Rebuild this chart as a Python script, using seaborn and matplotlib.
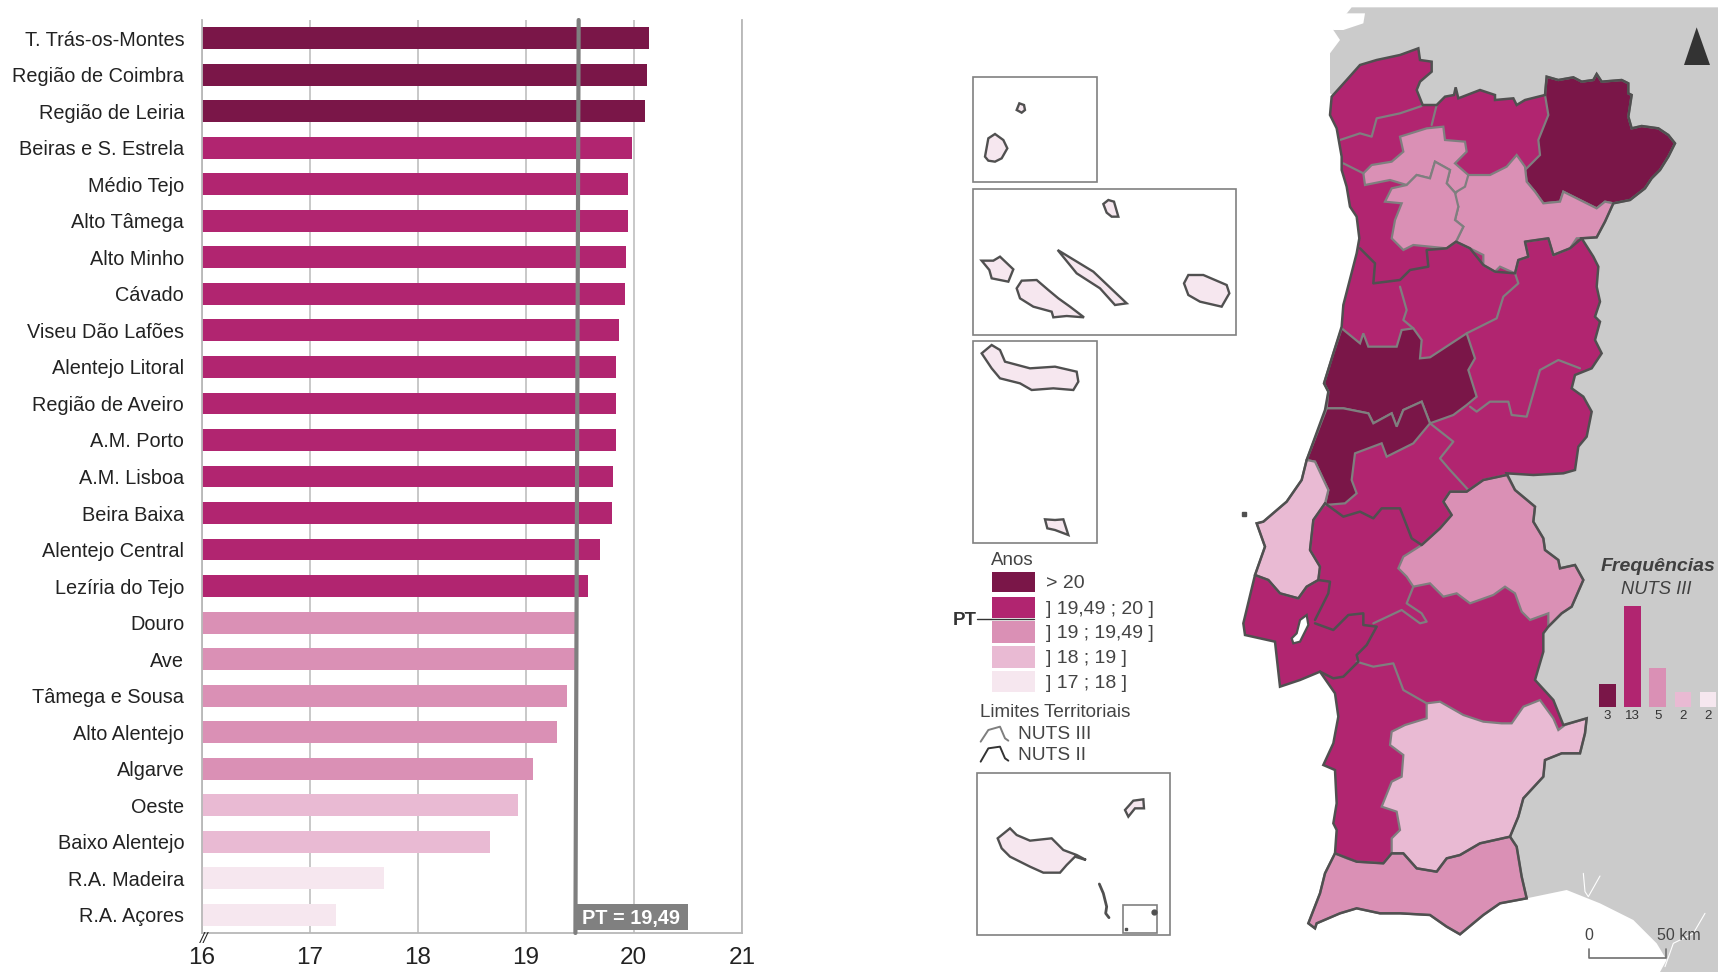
import matplotlib
matplotlib.use('Agg')
import pandas as pd
import matplotlib.pyplot as plt
import seaborn as sns
from matplotlib.patches import Polygon, Rectangle

sns.set_theme(style='white')
plt.rcParams['font.family'] = ['Liberation Sans', 'DejaVu Sans']

# dados do grafico de barras
regioes = ['T. Trás-os-Montes', 'Região de Coimbra', 'Região de Leiria', 'Beiras e S. Estrela',
           'Médio Tejo', 'Alto Tâmega', 'Alto Minho', 'Cávado', 'Viseu Dão Lafões',
           'Alentejo Litoral', 'Região de Aveiro', 'A.M. Porto', 'A.M. Lisboa', 'Beira Baixa',
           'Alentejo Central', 'Lezíria do Tejo', 'Douro', 'Ave', 'Tâmega e Sousa',
           'Alto Alentejo', 'Algarve', 'Oeste', 'Baixo Alentejo', 'R.A. Madeira', 'R.A. Açores']
anos = [20.14, 20.12, 20.10, 19.98, 19.95, 19.95, 19.93, 19.92, 19.86, 19.84, 19.84, 19.84, 19.81,
        19.80, 19.69, 19.58, 19.47, 19.46, 19.38, 19.29, 19.07, 18.93, 18.67, 17.69, 17.24]
classes = ['> 20', '] 19,49 ; 20 ]', '] 19 ; 19,49 ]', '] 18 ; 19 ]', '] 17 ; 18 ]']
cores = ['#7a1648', '#b12570', '#da90b5', '#e9bad3', '#f6e7ef']
classe_regiao = [classes[0]] * 3 + [classes[1]] * 13 + [classes[2]] * 5 + [classes[3]] * 2 + [classes[4]] * 2
frequencias = [3, 13, 5, 2, 2]
freq_labels = ['3', '13', '5', '2', '2']
anos_ticks = [16, 17, 18, 19, 20, 21]
pt_valor = 19.49

# contornos do mapa, lidos em recortes 3x da imagem
spain = [(455, 22), (1554, 22), (1554, 2916), (1380, 2916), (1400, 2880), (1370, 2830), (1300, 2760),
         (1200, 2710), (1100, 2670), (980, 2695), (700, 2000), (700, 1000), (420, 300), (390, 280),
         (390, 160), (420, 120), (400, 90)]
estuario_n = [(400, 60), (440, 40), (495, 40), (490, 70), (430, 90), (400, 90)]
rio_1 = [(1150, 1210), (1155, 1265), (1165, 1280), (1200, 1218)]
rio_2 = [(1395, 1490), (1420, 1420), (1480, 1390), (1515, 1330)]

outline_a = [(395, 290), (440, 240), (480, 195), (530, 180), (600, 165), (655, 145), (660, 180), (695, 185),
             (695, 215), (660, 245), (650, 270), (668, 315), (710, 315), (735, 290), (762, 285), (767, 262),
             (775, 295), (840, 270), (885, 285), (885, 300), (940, 295), (950, 315), (975, 300), (1035, 285),
             (1040, 230), (1075, 240), (1120, 232), (1145, 245), (1180, 240), (1190, 222), (1205, 245),
             (1265, 240), (1285, 250), (1285, 280), (1295, 285), (1285, 350), (1295, 385), (1325, 378),
             (1375, 385), (1405, 405), (1425, 430), (1405, 470), (1380, 510), (1355, 535), (1335, 565),
             (1290, 600), (1240, 610), (1215, 665), (1190, 712), (1145, 715), (1180, 770), (1195, 800),
             (1190, 860), (1200, 905), (1185, 950), (1200, 965), (1185, 1020), (1205, 1060), (1175, 1105),
             (1125, 1125), (1115, 1165), (1150, 1190), (1175, 1235), (1160, 1310), (1135, 1340), (1125, 1410),
             (1090, 1420), (1000, 1425), (920, 1420)]
outline_b = [(945, 60), (1005, 110), (1000, 155), (1030, 205), (1035, 240), (1075, 270), (1080, 295), (1125, 285),
             (1150, 330), (1115, 410), (1085, 430), (1045, 470), (1030, 490), (1030, 545), (1005, 630), (1060, 690),
             (1090, 765), (1160, 745), (1155, 790), (1140, 850), (1085, 850), (1035, 870), (1030, 920), (970, 985),
             (955, 1040), (930, 1100), (950, 1130), (965, 1220), (980, 1285), (900, 1300), (850, 1335), (780, 1393),
             (740, 1370), (690, 1335), (600, 1330), (540, 1330), (470, 1315), (420, 1330), (350, 1360), (345, 1375),
             (325, 1360), (360, 1270), (375, 1210), (405, 1150), (410, 1080), (400, 1060), (410, 1000), (405, 900),
             (370, 885), (400, 820), (415, 740), (405, 670), (360, 605), (300, 630), (240, 650), (225, 515),
             (135, 495), (130, 460), (165, 315), (195, 230), (170, 160), (190, 155), (260, 95), (305, 30)]
outline_c = [(320, 1380), (375, 1230), (385, 1175), (372, 1150), (400, 1060), (425, 980), (430, 915), (470, 760),
             (478, 715), (470, 650), (450, 620), (440, 560), (425, 510), (425, 470), (410, 385), (390, 345)]
tejo = [(300, 450), (320, 435), (325, 465), (300, 515), (280, 520), (275, 505), (290, 490)]

tras_os_montes = [(1040, 230), (1075, 240), (1120, 232), (1145, 245), (1180, 240), (1190, 222), (1205, 245),
                  (1265, 240), (1285, 250), (1285, 280), (1295, 285), (1285, 350), (1295, 385), (1325, 378),
                  (1375, 385), (1405, 405), (1425, 430), (1405, 470), (1380, 510), (1355, 535), (1335, 565),
                  (1290, 600), (1240, 610), (1215, 605), (1190, 625), (1150, 605), (1090, 575), (1080, 605),
                  (1030, 610), (1005, 575), (980, 545), (975, 510), (1020, 465), (1015, 420), (1045, 345), (1035, 285)]
douro = [(770, 575), (800, 525), (870, 525), (920, 500), (950, 465), (975, 500), (980, 545), (1005, 575), (1030, 610),
         (1080, 605), (1090, 575), (1150, 605), (1190, 625), (1215, 605), (1240, 610), (1215, 665), (1190, 712),
         (1130, 715), (1110, 745), (1060, 765), (1045, 715), (975, 725), (985, 770), (955, 780), (945, 820), (900, 800),
         (885, 815), (850, 795), (850, 765), (810, 745), (768, 725), (790, 680), (765, 660), (775, 620), (760, 590)]
ave = [(495, 555), (490, 520), (515, 495), (575, 485), (610, 455), (600, 410), (680, 385), (730, 380), (735, 420),
       (795, 425), (800, 455), (765, 490), (805, 525), (795, 560), (765, 578), (740, 550), (750, 510), (705, 485),
       (690, 535), (650, 525), (620, 555), (570, 540)]
tamega = [(555, 605), (575, 565), (620, 555), (650, 525), (690, 535), (705, 485), (750, 510), (740, 550), (765, 578),
          (775, 620), (765, 660), (790, 680), (768, 725), (740, 745), (690, 740), (640, 735), (610, 750), (575, 715),
          (585, 660), (605, 610)]
coimbra = [(425, 985), (480, 1030), (490, 1000), (505, 1040), (590, 1040), (605, 990), (640, 985), (665, 1020),
           (660, 1075), (690, 1072), (800, 1000), (825, 1075), (805, 1110), (830, 1190), (800, 1215), (760, 1245),
           (690, 1270), (665, 1205), (610, 1230), (590, 1280), (575, 1240), (520, 1270), (505, 1240), (430, 1225),
           (380, 1225), (385, 1175), (372, 1150), (400, 1060)]
leiria = [(380, 1225), (430, 1225), (505, 1240), (520, 1270), (575, 1240), (590, 1280), (610, 1230), (665, 1205),
          (690, 1270), (640, 1330), (560, 1370), (545, 1330), (465, 1360), (455, 1440), (470, 1480), (435, 1510),
          (375, 1515), (385, 1470), (345, 1385), (320, 1380)]
oeste = [(305, 30), (320, -30), (345, -25), (385, 60), (375, 100), (340, 150), (330, 240), (360, 290), (355, 330),
         (320, 350), (295, 385), (240, 370), (205, 330), (165, 315), (195, 230), (170, 160), (190, 155), (260, 95)]
algarve = [(405, 1150), (440, 1165), (470, 1175), (550, 1180), (575, 1150), (610, 1150), (650, 1195), (710, 1205),
           (740, 1165), (780, 1155), (840, 1120), (930, 1100), (950, 1130), (965, 1220), (980, 1285), (900, 1300),
           (850, 1335), (780, 1393), (740, 1370), (690, 1335), (600, 1330), (540, 1330), (470, 1315), (420, 1330),
           (350, 1360), (345, 1375), (325, 1360), (360, 1270), (375, 1210)]
baixo_alentejo = [(680, 700), (720, 695), (790, 735), (850, 755), (905, 760), (935, 760), (970, 710), (1020, 690),
                  (1060, 745), (1075, 780), (1095, 765), (1160, 745), (1155, 790), (1140, 850), (1085, 850),
                  (1035, 870), (1030, 920), (970, 985), (955, 1040), (930, 1100), (840, 1120), (780, 1155), (740, 1165),
                  (710, 1205), (650, 1195), (610, 1150), (575, 1150), (575, 1105), (600, 1080), (590, 1025), (545, 1010),
                  (575, 935), (605, 920), (610, 855), (570, 825), (575, 785), (615, 765), (680, 745)]
alto_alentejo = [(920, 15), (945, 60), (1005, 110), (1000, 155), (1030, 205), (1035, 240), (1075, 270), (1080, 295),
                 (1125, 285), (1150, 330), (1115, 410), (1085, 430), (1045, 470), (1045, 430), (990, 450), (965, 425),
                 (945, 370), (915, 350), (880, 375), (810, 400), (770, 370), (730, 380), (690, 340), (640, 350),
                 (620, 320), (595, 295), (610, 260), (665, 225), (720, 175), (755, 135), (730, 95), (750, 65),
                 (800, 65), (850, 30)]

# limites NUTS III (cinza), recorte norte
nuts3_n = [
    [(420, 420), (480, 400), (515, 410), (530, 355), (600, 340), (665, 318)],
    [(430, 490), (490, 520)],
    [(710, 315), (695, 375)],
    [(600, 860), (620, 930), (610, 960), (640, 985)],
    [(800, 1000), (890, 955), (910, 890), (955, 850), (945, 820)],
    [(810, 1220), (830, 1235), (870, 1205), (925, 1205), (935, 1245), (980, 1250), (1020, 1110), (1075, 1080), (1140, 1105)],
    [(690, 1270), (760, 1325), (720, 1375), (750, 1410), (805, 1470)],
]
nuts3_s = [
    [(640, 350), (620, 400), (665, 430), (680, 455), (660, 460), (605, 420), (520, 460)],
    [(470, 575), (520, 590), (580, 580), (610, 660), (680, 700)],
]
# limites NUTS II (escuro)
nuts2_n = [(480, 745), (525, 790), (520, 850), (600, 840), (630, 810), (685, 800), (680, 750), (740, 745), (768, 725),
           (810, 745), (850, 795), (885, 815), (945, 820), (955, 780), (985, 770), (975, 725), (1045, 715), (1060, 765),
           (1110, 745), (1145, 715)]
nuts2_s = [
    [(375, 100), (430, 140), (480, 125), (520, 145), (545, 115), (600, 115), (635, 205), (665, 225), (720, 175), (755, 135),
     (730, 95), (750, 65), (800, 65), (850, 30), (920, 15)],
    [(375, 100), (340, 150), (330, 240), (360, 290), (355, 330), (390, 335), (385, 370), (345, 450)],
    [(165, 315), (205, 330), (240, 370), (295, 385), (320, 350), (355, 330)],
    [(345, 460), (400, 480), (445, 435), (490, 430), (490, 465), (530, 470), (500, 525), (470, 555), (475, 575), (430, 620), (400, 625), (360, 605)],
    [(405, 1150), (470, 1175), (550, 1180), (575, 1150), (610, 1150), (650, 1195), (710, 1205), (740, 1165), (780, 1155), (840, 1120), (930, 1100)],
]

# ilhas
corvo = [(170, 150), (178, 130), (192, 135), (195, 150), (185, 158)]
flores = [(75, 290), (85, 235), (105, 222), (130, 240), (142, 265), (125, 295), (105, 305), (85, 302)]
graciosa = [(430, 432), (445, 420), (462, 425), (475, 470), (455, 470), (440, 458)]
faial = [(65, 602), (100, 602), (120, 590), (160, 628), (145, 665), (95, 655), (88, 630)]
pico = [(170, 685), (185, 662), (230, 660), (265, 690), (295, 715), (330, 740), (372, 772), (320, 768), (280, 772),
        (275, 755), (220, 740), (180, 715)]
sao_jorge = [(293, 570), (400, 635), (500, 730), (465, 735), (420, 685), (350, 640)]
terceira = [(672, 670), (685, 645), (730, 645), (800, 675), (808, 700), (785, 740), (720, 725), (685, 705)]
sao_miguel = [(65, 880), (95, 855), (120, 870), (135, 905), (210, 925), (285, 920), (350, 935), (355, 965), (340, 990),
              (280, 985), (215, 990), (180, 970), (120, 955), (95, 925)]
santa_maria = [(255, 1378), (285, 1380), (310, 1378), (325, 1425), (285, 1410), (262, 1405)]
madeira = [(113, 235), (150, 205), (170, 225), (210, 242), (275, 235), (310, 270), (350, 285), (378, 300), (345, 290),
           (320, 315), (300, 338), (250, 338), (210, 320), (150, 290), (125, 265)]
porto_santo = [(495, 150), (520, 122), (550, 118), (552, 145), (525, 145), (505, 170)]
desertas = [(418, 372), (430, 400), (440, 440), (437, 460), (447, 473)]


def crop(pts, x0, y0):
    # recorte 3x -> pixels da figura
    return [(x0 + p[0] / 3, y0 + p[1] / 3) for p in pts]


def N(pts):
    return crop(pts, 1200, 0)


def S(pts):
    return crop(pts, 1200, 470)


def A(pts):
    return crop(pts, 960, 60)


def M(pts):
    return crop(pts, 960, 760)


def L(pts):
    return crop(pts, 960, 530)


W, H = 1718, 972
fig = plt.figure(figsize=(W / 100, H / 100), dpi=100, facecolor='white')


def axes_px(x0, y0, x1, y1):
    return fig.add_axes([x0 / W, 1 - y1 / H, (x1 - x0) / W, (y1 - y0) / H])


# --- mapa: eixo em pixels sobre a figura toda
bg = axes_px(0, 0, W, H)
bg.set_xlim(0, W)
bg.set_ylim(H, 0)
bg.axis('off')


def area(ax, pts, cor, borda=None, lw=1.6, z=2):
    ax.add_patch(Polygon(pts, closed=True, facecolor=cor, edgecolor=borda if borda else 'none', lw=lw, zorder=z))


def linha(ax, pts, cor, lw=1.6, z=4):
    ax.plot([p[0] for p in pts], [p[1] for p in pts], color=cor, lw=lw, zorder=z, solid_joinstyle='round')


CINZA = '#7f7f7f'
ESCURO = '#505050'

area(bg, N(spain), '#cbcbcb', z=1)
area(bg, N(estuario_n), 'white', z=1.5)
linha(bg, S(rio_1), 'white', 0.8, 1.5)
linha(bg, S(rio_2), 'white', 0.8, 1.5)

contorno = N(outline_a) + S(outline_b) + N(outline_c)
area(bg, contorno, cores[1], z=2)
area(bg, N(tras_os_montes), cores[0], CINZA, z=3)
area(bg, N(douro), cores[2], CINZA, z=3)
area(bg, N(ave), cores[2], CINZA, z=3)
area(bg, N(tamega), cores[2], CINZA, z=3)
area(bg, N(coimbra), cores[0], CINZA, z=3)
area(bg, N(leiria), cores[0], CINZA, z=3)
area(bg, S(oeste), cores[3], CINZA, z=3)
area(bg, S(algarve), cores[2], CINZA, z=3)
area(bg, S(baixo_alentejo), cores[3], CINZA, z=3)
area(bg, S(alto_alentejo), cores[2], CINZA, z=3)
for seg in nuts3_n:
    linha(bg, N(seg), CINZA)
for seg in nuts3_s:
    linha(bg, S(seg), CINZA)
linha(bg, N(nuts2_n), ESCURO, 1.8, 5)
for seg in nuts2_s:
    linha(bg, S(seg), ESCURO, 1.8, 5)
area(bg, contorno, 'none', ESCURO, 1.8, 5)
area(bg, S(tejo), 'white', ESCURO, 1.6, 6)
bg.plot(*S([(131, 131)])[0], 's', color=ESCURO, ms=2.5, zorder=6)

# seta de norte
area(bg, N([(1490, 82), (1530, 195), (1452, 195)]), '#333333', z=7)

# escala grafica
linha(bg, S([(1167, 1438), (1167, 1465), (1398, 1465), (1398, 1438)]), '#707070', 1.2, 7)
bg.text(*S([(1165, 1395)])[0], '0', ha='center', va='center', fontsize=11.5, color='#444444', zorder=7)
bg.text(*S([(1436, 1395)])[0], '50 km', ha='center', va='center', fontsize=11.5, color='#444444', zorder=7)

# caixas das ilhas
for x0, y0, x1, y1 in [(972.7, 77.3, 1097, 182.3), (972.7, 189.3, 1235.7, 335.3), (972.7, 341.3, 1097, 543.3),
                       (976.7, 772.7, 1170, 935), (1122.7, 905, 1157.3, 933)]:
    bg.add_patch(Rectangle((x0, y0), x1 - x0, y1 - y0, fc='none', ec='#808080', lw=1.2, zorder=2))
for ilha in [corvo, flores, graciosa, faial, pico, sao_jorge, terceira, sao_miguel, santa_maria]:
    area(bg, A(ilha), cores[4], ESCURO, 1.7, 3)
for ilha in [madeira, porto_santo]:
    area(bg, M(ilha), cores[4], ESCURO, 1.7, 3)
linha(bg, M(desertas), ESCURO, 2.0, 3)
bg.plot(*M([(583, 455)])[0], 'o', color=ESCURO, ms=3.5, zorder=3)
bg.plot(*M([(498, 508)])[0], 's', color=ESCURO, ms=2, zorder=3)

# legenda
TXT = '#444444'
bg.text(991, 560, 'Anos', ha='left', va='center', fontsize=13.5, color=TXT)
caixas = [(571.7, 592), (596.7, 617.7), (621, 642.7), (646, 667.7), (671, 692)]
for (y0, y1), cor, rotulo in zip(caixas, cores, classes):
    bg.add_patch(Rectangle((991.7, y0), 43.3, y1 - y0, fc=cor, ec='none', zorder=2))
    bg.text(1046.5, (y0 + y1) / 2 + 2, rotulo, ha='left', va='center', fontsize=14, color=TXT)
linha(bg, [(976.7, 619.3), (1034, 619.3)], '#333333', 1.0, 6)
bg.text(965, 620, 'PT', ha='center', va='center', fontsize=13.5, fontweight='bold', color='#333333')
bg.text(980, 712.5, 'Limites Territoriais', ha='left', va='center', fontsize=13.6, color=TXT)
bg.text(1018, 734, 'NUTS III', ha='left', va='center', fontsize=13.8, color=TXT)
bg.text(1018, 755, 'NUTS II', ha='left', va='center', fontsize=13.8, color=TXT)
linha(bg, L([(62, 635), (85, 600), (120, 590), (135, 625), (145, 632)]), CINZA, 1.4)
linha(bg, L([(62, 695), (85, 655), (120, 650), (135, 685), (145, 692)]), '#333333', 1.4)

bg.text(1658, 566, 'Frequências', ha='center', va='center', fontsize=14, fontweight='bold', style='italic', color='#404040', zorder=8)
bg.text(1656, 589, 'NUTS III', ha='center', va='center', fontsize=13.2, style='italic', color='#404040', zorder=8)

# --- barras de frequencias
df_freq = pd.DataFrame({'classe': classes, 'n': frequencias})
ax_f = axes_px(1594.7, 605.7, 1720.7, 707.3)
ax_f.patch.set_alpha(0)
sns.barplot(data=df_freq, x='classe', y='n', hue='classe', palette=dict(zip(classes, cores)),
            order=classes, width=0.66, dodge=False, legend=False, saturation=1, linewidth=0, ax=ax_f)
ax_f.set_xlim(-0.5, 4.5)
ax_f.set_ylim(0, 13)
ax_f.set_xticks(range(5))
ax_f.set_xticklabels(freq_labels, fontsize=9.5, color='#333333')
ax_f.set_xlabel('')
ax_f.set_ylabel('')
ax_f.set_yticks([])
ax_f.tick_params(axis='x', length=0, pad=2)
sns.despine(ax=ax_f, left=True, bottom=True)

# --- grafico de barras principal
df = pd.DataFrame({'regiao': regioes, 'anos': anos, 'classe': classe_regiao})
ax = axes_px(201.6, 20, 741.8, 933)
ax.patch.set_alpha(0)
sns.barplot(data=df, y='regiao', x='anos', hue='classe', palette=dict(zip(classes, cores)),
            hue_order=classes, width=0.6, dodge=False, legend=False, saturation=1, linewidth=0, ax=ax)
ax.set_xlim(16, 21)
ax.set_ylim(24.5, -0.5)
ax.set_xticks(anos_ticks)
ax.set_xticklabels([str(t) for t in anos_ticks], fontsize=17.5, color='#222222')
ax.set_xlabel('')
ax.set_ylabel('')
ax.tick_params(axis='y', length=0, pad=12.5, labelsize=14.3, labelcolor='#222222')
ax.tick_params(axis='x', length=0, pad=10)
ax.xaxis.grid(True, color='#c4c4c4', lw=1.3)
ax.yaxis.grid(False)
ax.set_axisbelow(True)
for lado in ['left', 'right', 'bottom']:
    ax.spines[lado].set_visible(True)
    ax.spines[lado].set_color('#b8b8b8')
    ax.spines[lado].set_linewidth(1.3)
ax.spines['top'].set_visible(False)

# linha de Portugal e etiqueta
ax.plot([pt_valor, pt_valor - 0.03], [-0.5, 24.5], color='#7f7f7f', lw=3, zorder=5, clip_on=False)
ax.add_patch(Rectangle((pt_valor - 0.03, 23.7), 1.04, 0.72, fc='#808080', ec='none', zorder=6))
ax.text(pt_valor + 0.03, 24.09, 'PT = 19,49', ha='left', va='center', fontsize=14.3, fontweight='bold',
        color='white', zorder=7)
ax.annotate('//', xy=(16, 24.5), xytext=(2, -4), textcoords='offset points', ha='center', va='center',
            fontsize=11, style='italic', color='#222222', annotation_clip=False)

fig.savefig('out.png', dpi=100, facecolor='white')
